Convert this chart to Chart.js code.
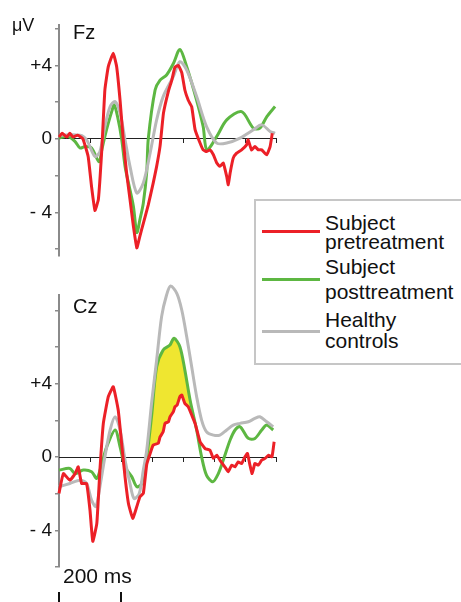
<!DOCTYPE html>
<html>
<head>
<meta charset="utf-8">
<title>ERP Fz / Cz</title>
<script src="https://cdn.jsdelivr.net/npm/chart.js@4.4.1/dist/chart.umd.min.js"></script>
<style>
	body { margin: 0; background: #fff; font-family: "Liberation Sans", Arial, sans-serif; color: #111; }
	#erp-page { position: relative; width: 461px; height: 602px; overflow: hidden; }
	.erp-box { position: absolute; left: 0; width: 300px; }
	#erp-fz-box { top: 0; height: 270px; }
	#erp-cz-box { top: 270px; height: 332px; }
	.erp-txt { position: absolute; line-height: 1; white-space: nowrap; }
	.erp-unit { left: 12px; top: 16px; font-size: 18px; }
	.erp-site { left: 73px; font-size: 20px; }
	#erp-legend { position: absolute; left: 254px; top: 199px; width: 220px; height: 166px; border: 2px solid #c6c6c6; box-sizing: border-box; background: #fff; }
	.erp-leg-line { position: absolute; left: 6px; width: 58px; height: 3px; }
	.erp-leg-txt { position: absolute; left: 69px; font-size: 21px; line-height: 1; white-space: nowrap; }
</style>
</head>
<body>
<div id="erp-page">
	<div class="erp-box" id="erp-fz-box"><canvas id="erp-fz"></canvas></div>
	<div class="erp-box" id="erp-cz-box"><canvas id="erp-cz"></canvas></div>
	<div class="erp-txt erp-unit">μV</div>
	<div class="erp-txt erp-site" style="top:22px">Fz</div>
	<div class="erp-txt erp-site" style="top:296px">Cz</div>
	<div id="erp-legend"></div>
</div>
<script>
// time axis (ms) and tick labels
var x_min = 0, x_max = 700, x_step = 100;
var y_step = 2;
var y_tick_values = [4, 0, -4];
var y_tick_text = ["+4", "0", "- 4"];
var bar_ms = 200;

var series_names = [["Subject", "pretreatment"], ["Subject", "posttreatment"], ["Healthy", "controls"]];
var series_colors = ["#ec2027", "#5db742", "#b9b9b9"];
var shade_color = "#efe630";
var shade_from = 283, shade_to = 430;

// ── Fz ─────────────────────────────────────────────────────────────────────
var fz_pre_ms = [0, 10, 25, 35, 45, 60, 77, 94, 105, 116, 127, 138, 148, 159, 175, 186, 197, 207, 218, 229, 240, 251, 261, 272, 288, 304, 315, 326, 337, 353, 364, 374, 385, 396, 406, 417, 428, 439, 455, 465, 476, 487, 498, 509, 519, 530, 541, 546, 552, 562, 573, 589, 605, 610, 621, 632, 643, 654, 670, 681, 688];
var fz_pre_uv = [0.1, 0.3, 0.1, 0.3, 0.1, 0.2, 0.0, -0.96, -2.6, -3.9, -3.3, -0.6, 2.66, 3.93, 4.66, 3.93, 2.1, 0.0, -1.85, -3.3, -4.76, -5.94, -5.3, -4.6, -3.6, -2.4, -1.5, -0.4, 1.4, 2.6, 3.2, 3.9, 4.0, 3.6, 2.66, 2.1, 1.75, 0.5, -0.23, -0.6, -0.69, -0.6, -0.87, -1.32, -1.5, -1.32, -2.05, -2.5, -1.86, -1.05, -0.78, -0.6, -0.33, -0.05, -0.6, -0.42, -0.6, -0.6, -0.87, -0.42, 0.3];

var fz_post_ms = [0, 30, 52, 68, 84, 105, 129, 138, 148, 159, 170, 178, 189, 202, 213, 224, 240, 251, 261, 272, 283, 288, 310, 326, 347, 369, 390, 412, 444, 465, 477, 509, 541, 589, 627, 648, 670, 697];
var fz_post_uv = [0.05, 0.13, -0.15, -0.5, -0.42, -0.5, -1.25, -0.6, 0.13, 0.85, 1.48, 1.85, 1.2, 0, -1.5, -2.4, -3.68, -5.1, -4.4, -3.5, -1.8, 0, 2.66, 3.2, 3.48, 4.1, 4.87, 3.93, 2.1, 0.67, -0.6, 0.13, 1.03, 1.48, 0.58, 0.58, 1.2, 1.76];

var fz_ctrl_ms = [0, 68, 89, 116, 132, 148, 165, 181, 197, 213, 229, 251, 272, 294, 315, 336, 369, 390, 412, 444, 476, 509, 541, 584, 627, 654, 681, 697];
var fz_ctrl_uv = [0.2, 0.2, -0.05, -0.96, -0.7, 0.67, 1.76, 2.03, 1.4, -0.05, -1.5, -2.95, -2.4, -0.77, 1.03, 2.3, 3.4, 4.2, 3.75, 2.3, 0.67, -0.23, -0.23, 0.04, 0.49, 0.76, 0.4, 0.3];

var fz_y_min = -6.36, fz_y_max = 6.2;

// ── Cz ─────────────────────────────────────────────────────────────────────
var cz_pre_ms = [0, 14, 35, 52, 62, 73, 89, 100, 109, 122, 132, 143, 159, 175, 191, 202, 213, 224, 238, 251, 261, 272, 283, 294, 304, 320, 326, 336, 342, 353, 358, 369, 374, 381, 390, 396, 406, 417, 428, 439, 455, 471, 487, 498, 509, 519, 535, 546, 557, 568, 578, 589, 600, 608, 616, 623, 632, 643, 654, 665, 676, 687, 694];
var cz_pre_uv = [-1.98, -0.9, -1.26, -0.9, -0.53, -1.44, -1.44, -2.9, -4.6, -3.62, -0.7, 1.84, 3.3, 3.84, 2.57, 0.75, -1.08, -2.53, -3.35, -2.7, -2.17, -1.98, -0.4, 0.2, 0.66, 0.75, 1.1, 1.38, 1.84, 1.93, 2.2, 2.48, 2.75, 2.84, 3.3, 3.39, 2.93, 2.75, 2.3, 1.84, 0.84, 0.47, 0.38, -0.07, 0.1, -0.16, -0.53, -0.8, -0.44, -0.53, -0.26, -0.35, 0.02, 0.2, -0.44, -0.9, -0.35, -0.44, -0.16, -0.07, 0.1, 0.02, 0.84];

var cz_post_ms = [0, 35, 52, 78, 105, 122, 138, 154, 181, 197, 213, 235, 251, 267, 283, 299, 315, 336, 358, 371, 390, 406, 423, 444, 460, 476, 496, 514, 530, 552, 568, 584, 611, 632, 654, 670, 691];
var cz_post_uv = [-0.71, -0.62, -0.9, -0.71, -0.8, -1.16, -0.35, 0.56, 1.48, 0.56, -0.53, -1.08, -1.62, -1.44, 0.02, 2.3, 4.93, 5.85, 6.12, 6.49, 6.03, 4.75, 3.1, 1.48, 0.02, -1.0, -1.35, -0.9, -0.16, 0.93, 1.48, 1.66, 1.02, 1.02, 1.48, 1.75, 1.48];

var cz_ctrl_ms = [0, 35, 68, 89, 105, 119, 132, 148, 165, 181, 197, 213, 229, 242, 259, 272, 283, 299, 315, 331, 347, 360, 380, 396, 412, 428, 444, 460, 476, 498, 519, 541, 562, 584, 611, 632, 648, 670, 691];
var cz_ctrl_uv = [-1.62, -1.44, -1.26, -1.44, -2.35, -2.7, -1.62, 0, 1.48, 2.2, 1.48, -0.16, -1.44, -2.26, -1.98, -0.71, 0.38, 3.0, 5.3, 7.67, 8.85, 9.34, 8.94, 8.03, 6.57, 4.93, 3.3, 2.02, 1.38, 1.2, 1.2, 1.48, 1.75, 1.84, 1.93, 2.11, 2.2, 1.93, 1.66];

var cz_y_min = -6.0, cz_y_max = 8.85;

var FONT = '"Liberation Sans", Arial, sans-serif';

// "200 ms" scale bar under the Cz panel
var scale_bar_plugin = {
	id: "scaleBar",
	afterDraw: function (chart) {
		var ctx = chart.ctx, xs = chart.scales.x, area = chart.chartArea;
		var x0 = xs.getPixelForValue(x_min), x1 = xs.getPixelForValue(x_min + bar_ms);
		ctx.save();
		ctx.fillStyle = "#111";
		ctx.font = "21px " + FONT;
		ctx.textBaseline = "alphabetic";
		ctx.fillText(bar_ms + " ms", x0 + 4, area.bottom + 16);
		ctx.strokeStyle = "#111";
		ctx.lineWidth = 2;
		ctx.beginPath();
		[x0, x1].forEach(function (px) {
			ctx.moveTo(px, chart.height - 10);
			ctx.lineTo(px, chart.height);
		});
		ctx.stroke();
		ctx.restore();
	},
};

var erp_figure = {
	charts: {},

	init: function () {
		this.render_legend();

		this.charts.fz = this.make_panel("erp-fz", [
			this.trace(series_names[0], fz_pre_ms, fz_pre_uv, series_colors[0], 0.12),
			this.trace(series_names[2], fz_ctrl_ms, fz_ctrl_uv, series_colors[2], 0.3),
			this.trace(series_names[1], fz_post_ms, fz_post_uv, series_colors[1], 0.3),
		], fz_y_min, fz_y_max, { top: 25, bottom: 14 }, []);

		// yellow area between posttreatment and pretreatment
		var shade_ms = cz_post_ms.filter((t) => t >= shade_from && t <= shade_to);
		var shade_uv = cz_post_uv.filter((v, i) => cz_post_ms[i] >= shade_from && cz_post_ms[i] <= shade_to);
		var shade = this.trace("shade", shade_ms, shade_uv, "rgba(0,0,0,0)", 0.3);
		shade.backgroundColor = shade_color;
		shade.fill = "+1";
		shade.borderWidth = 1;

		this.charts.cz = this.make_panel("erp-cz", [
			shade,
			this.trace(series_names[0], cz_pre_ms, cz_pre_uv, series_colors[0], 0.12),
			this.trace(series_names[2], cz_ctrl_ms, cz_ctrl_uv, series_colors[2], 0.3),
			this.trace(series_names[1], cz_post_ms, cz_post_uv, series_colors[1], 0.3),
		], cz_y_min, cz_y_max, { top: 25, bottom: 35 }, [scale_bar_plugin]);
	},

	trace: function (name, ms, uv, color, tension) {
		return {
			label: Array.isArray(name) ? name.join(" ") : name,
			data: ms.map((t, i) => ({ x: t, y: uv[i] })),
			borderColor: color,
			backgroundColor: color,
			borderWidth: 3,
			pointRadius: 0,
			tension: tension,
			fill: false,
			clip: false,
		};
	},

	render_legend: function () {
		// line y and the two text rows of each entry, inside the box
		var line_tops = [29, 77, 129];
		var text_tops = [[11, 30], [55, 80], [108, 129]];
		var html = series_names
			.map((rows, i) => {
				var s = `<div class="erp-leg-line" style="top:${line_tops[i]}px;background:${series_colors[i]}"></div>`;
				rows.forEach((r, j) => {
					s += `<div class="erp-leg-txt" style="top:${text_tops[i][j]}px">${r}</div>`;
				});
				return s;
			})
			.join("");
		document.getElementById("erp-legend").innerHTML = html;
	},

	make_panel: function (canvas_id, datasets, y_min, y_max, pad, plugins) {
		return new Chart(document.getElementById(canvas_id), {
			type: "line",
			data: { datasets: datasets },
			options: {
				responsive: true,
				maintainAspectRatio: false,
				animation: false,
				layout: { padding: { left: 0, right: 24, top: pad.top, bottom: pad.bottom } },
				plugins: {
					legend: { display: false },
					tooltip: { enabled: false },
					filler: { drawTime: "beforeDatasetsDraw" },
				},
				scales: {
					y: {
						type: "linear",
						min: y_min,
						max: y_max,
						afterFit: function (s) { s.width = 59; },
						border: { display: true, color: "#8a8a8a", width: 2 },
						grid: { display: true, drawOnChartArea: false, drawTicks: true, tickLength: 4, color: "#8a8a8a", lineWidth: 1.5 },
						ticks: {
							stepSize: y_step,
							includeBounds: false,
							padding: 3,
							color: "#111",
							font: { family: FONT, size: 19 },
							callback: function (v) {
								var i = y_tick_values.indexOf(v);
								return i < 0 ? "" : y_tick_text[i];
							},
						},
					},
					x: {
						type: "linear",
						position: { y: 0 },
						min: x_min,
						max: x_max,
						border: { display: true, color: "#222", width: 1 },
						grid: { display: true, drawOnChartArea: false, drawTicks: true, tickLength: 4, color: "#222" },
						ticks: { display: false, stepSize: x_step },
					},
				},
			},
			plugins: plugins,
		});
	},
};

erp_figure.init();
</script>
</body>
</html>
